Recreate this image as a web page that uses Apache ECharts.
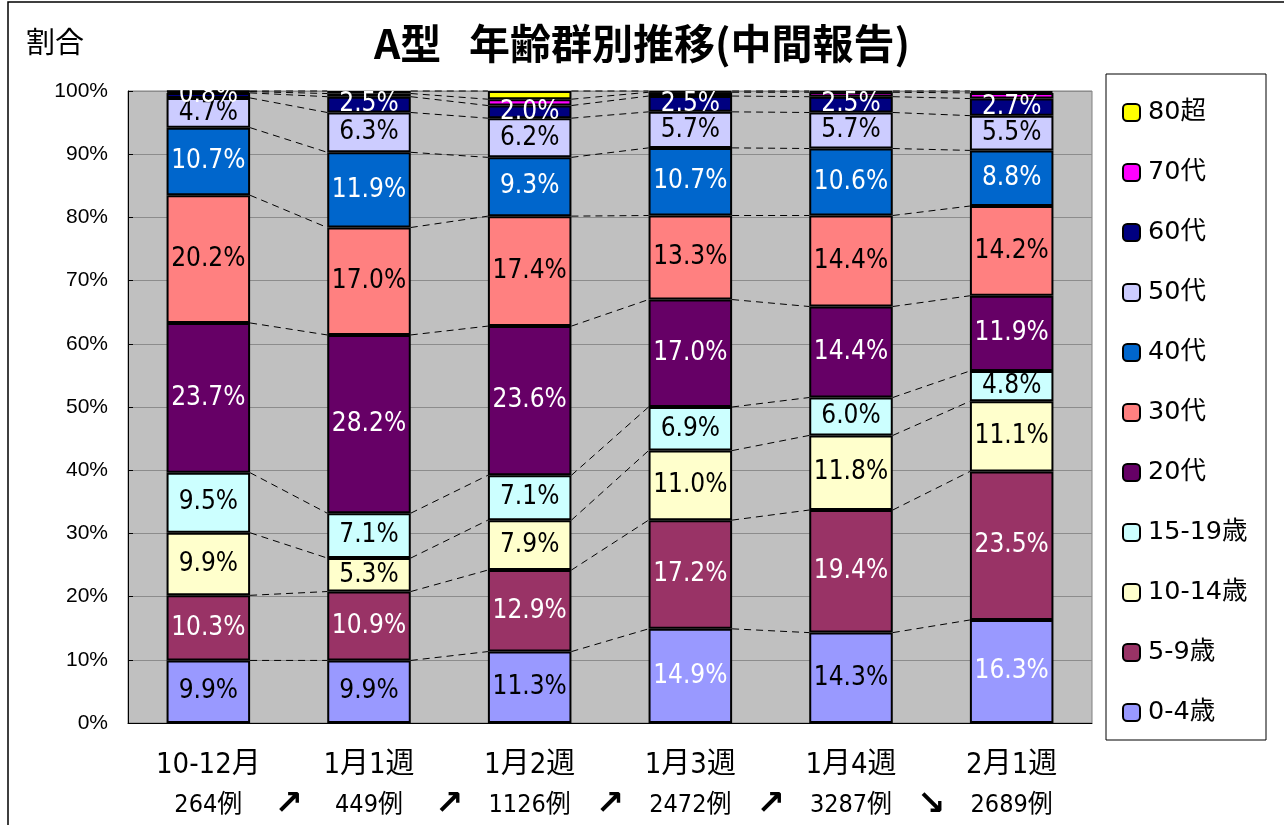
<!DOCTYPE html>
<html lang="ja">
<head>
    <meta charset="utf-8">
    <title>A型 年齢群別推移</title>
    <script src="https://cdn.jsdelivr.net/npm/echarts@6/dist/echarts.min.js"></script>
</head>
<body style="margin:0; background:#fff;">
<div id="main" style="width:1284px; height:825px;"></div>

<script type="text/javascript">
    // 週ごとの年齢群の割合(%)
    const categories = ['10-12月', '1月1週', '1月2週', '1月3週', '1月4週', '2月1週'];
    const caseCounts = ['264例', '449例', '1126例', '2472例', '3287例', '2689例'];
    const trendArrows = ['↗', '↗', '↗', '↗', '↘'];
    const ageGroups = ['0-4歳', '5-9歳', '10-14歳', '15-19歳', '20代', '30代', '40代', '50代', '60代', '70代', '80超'];

    const age0_4   = [9.9, 9.9, 11.3, 14.9, 14.3, 16.3];
    const age5_9   = [10.3, 10.9, 12.9, 17.2, 19.4, 23.5];
    const age10_14 = [9.9, 5.3, 7.9, 11.0, 11.8, 11.1];
    const age15_19 = [9.5, 7.1, 7.1, 6.9, 6.0, 4.8];
    const age20s   = [23.7, 28.2, 23.6, 17.0, 14.4, 11.9];
    const age30s   = [20.2, 17.0, 17.4, 13.3, 14.4, 14.2];
    const age40s   = [10.7, 11.9, 9.3, 10.7, 10.6, 8.8];
    const age50s   = [4.7, 6.3, 6.2, 5.7, 5.7, 5.5];
    const age60s   = [0.8, 2.5, 2.0, 2.5, 2.5, 2.7];
    const age70s   = [0.2, 0.5, 1.0, 0.6, 0.7, 0.9];
    const age80up  = [0.1, 0.4, 1.3, 0.2, 0.2, 0.3];

    const seriesValues = [age0_4, age5_9, age10_14, age15_19, age20s, age30s, age40s, age50s, age60s, age70s, age80up];
    const colors = ['#9999ff', '#993366', '#ffffcc', '#ccffff', '#660066', '#ff8080', '#0066cc', '#ccccff', '#000080', '#ff00ff', '#ffff00'];
    const labelColors = ['#000', '#fff', '#000', '#000', '#fff', '#000', '#fff', '#000', '#fff', null, null];
    const age0_4LabelColors = ['#000', '#000', '#000', '#fff', '#000', '#fff'];

    const narrow = "'DejaVu Sans Condensed', 'Noto Sans CJK JP', sans-serif";

    // 積み上げの境目(系列線用)
    const cum = [];
    seriesValues.forEach(function (vals, k) {
        cum.push(vals.map(function (v, i) { return (k > 0 ? cum[k - 1][i] : 0) + v; }));
    });

    const BAR_RATIO = 0.52;

    const barSeries = seriesValues.map(function (vals, k) {
        return {
            name: ageGroups[k],
            type: 'bar',
            stack: 'total',
            barWidth: (BAR_RATIO * 100) + '%',
            itemStyle: {color: colors[k], borderColor: '#000', borderWidth: 2},
            label: {
                show: labelColors[k] !== null,
                position: 'inside',
                color: labelColors[k] || '#000',
                fontFamily: narrow,
                fontSize: 26,
                formatter: function (p) { return p.value.toFixed(1) + '%'; }
            },
            data: vals.map(function (v, i) {
                if (k === 0) return {value: v, label: {color: age0_4LabelColors[i]}};
                return v;
            }),
            z: 3
        };
    });

    const seriesLines = {
        type: 'custom',
        silent: true,
        z: 2,
        encode: {x: 0, y: 1},
        data: categories.slice(0, -1).map(function (c, i) { return [i, 0]; }),
        renderItem: function (params, api) {
            const i = api.value(0);
            const halfW = api.size([1, 0])[0] * BAR_RATIO / 2;
            const children = cum.map(function (row) {
                const p1 = api.coord([i, row[i]]);
                const p2 = api.coord([i + 1, row[i + 1]]);
                return {
                    type: 'line',
                    shape: {x1: p1[0] + halfW, y1: p1[1], x2: p2[0] - halfW, y2: p2[1]},
                    style: {stroke: '#000', lineWidth: 1, lineDash: [7, 5]}
                };
            });
            return {type: 'group', children: children};
        }
    };

    const myChart = echarts.init(document.getElementById('main'));
    const option = {
        animation: false,
        backgroundColor: '#fff',
        title: [{
            text: 'A型   年齢群別推移(中間報告)',
            left: 'center',
            top: 18,
            textStyle: {fontFamily: "'Noto Sans CJK JP'", fontWeight: 'bold', fontSize: 41, color: '#000'}
        }, {
            text: '割合',
            left: 21,
            top: 22,
            textStyle: {fontFamily: "'Noto Sans CJK JP'", fontWeight: 'normal', fontSize: 29, color: '#000'}
        }],
        legend: {
            data: ageGroups.slice().reverse(),
            orient: 'vertical',
            left: 1117,
            top: 94,
            itemWidth: 17,
            itemHeight: 17,
            itemGap: 33,
            selectedMode: false,
            textStyle: {fontFamily: "'DejaVu Sans', 'Noto Sans CJK JP'", fontSize: 25.5, lineHeight: 27, color: '#000', padding: [0, 0, 0, 3]}
        },
        grid: {
            left: 128, right: 192, top: 91, bottom: 102,
            show: true, backgroundColor: '#c0c0c0', borderColor: '#808080', borderWidth: 1
        },
        xAxis: {
            type: 'category',
            data: categories,
            axisLine: {lineStyle: {color: '#000', width: 1}},
            axisTick: {show: false},
            axisLabel: {
                margin: 22,
                interval: 0,
                formatter: function (v, i) { return '{a|' + v + '}\n{b|' + caseCounts[i] + '}'; },
                rich: {
                    a: {fontFamily: narrow, fontSize: 29, lineHeight: 40, color: '#000'},
                    b: {fontFamily: narrow, fontSize: 25, lineHeight: 40, color: '#000'}
                }
            }
        },
        yAxis: {
            type: 'value',
            min: 0,
            max: 100,
            interval: 10,
            axisLine: {show: true, lineStyle: {color: '#000'}},
            axisTick: {show: true, inside: true, length: 5, lineStyle: {color: '#000'}},
            axisLabel: {formatter: '{value}%', fontFamily: "'Liberation Sans', Arial", fontSize: 21, color: '#000', margin: 20},
            splitLine: {lineStyle: {color: '#8c8c8c', width: 1}}
        },
        graphic: [{
            type: 'rect',
            shape: {x: 8, y: 2, width: 1300, height: 840},
            style: {fill: 'none', stroke: '#000', lineWidth: 1.5},
            silent: true,
            z: -1
        }, {
            type: 'rect',
            shape: {x: 1106, y: 74, width: 160, height: 666},
            style: {fill: '#fff', stroke: '#000', lineWidth: 1},
            silent: true,
            z: -1
        }],
        series: barSeries.concat([seriesLines])
    };
    myChart.setOption(option);

    // 件数の間の矢印
    const arrowGraphics = trendArrows.map(function (a, i) {
        const x1 = myChart.convertToPixel({xAxisIndex: 0}, i);
        const x2 = myChart.convertToPixel({xAxisIndex: 0}, i + 1);
        return {
            type: 'text',
            x: (x1 + x2) / 2,
            y: 805,
            silent: true,
            style: {
                text: a, fill: '#000', fontSize: 34, fontWeight: 'bold',
                fontFamily: "'DejaVu Sans'", align: 'center', verticalAlign: 'middle'
            }
        };
    });
    myChart.setOption({graphic: option.graphic.concat(arrowGraphics)});
</script>
</body>
</html>
